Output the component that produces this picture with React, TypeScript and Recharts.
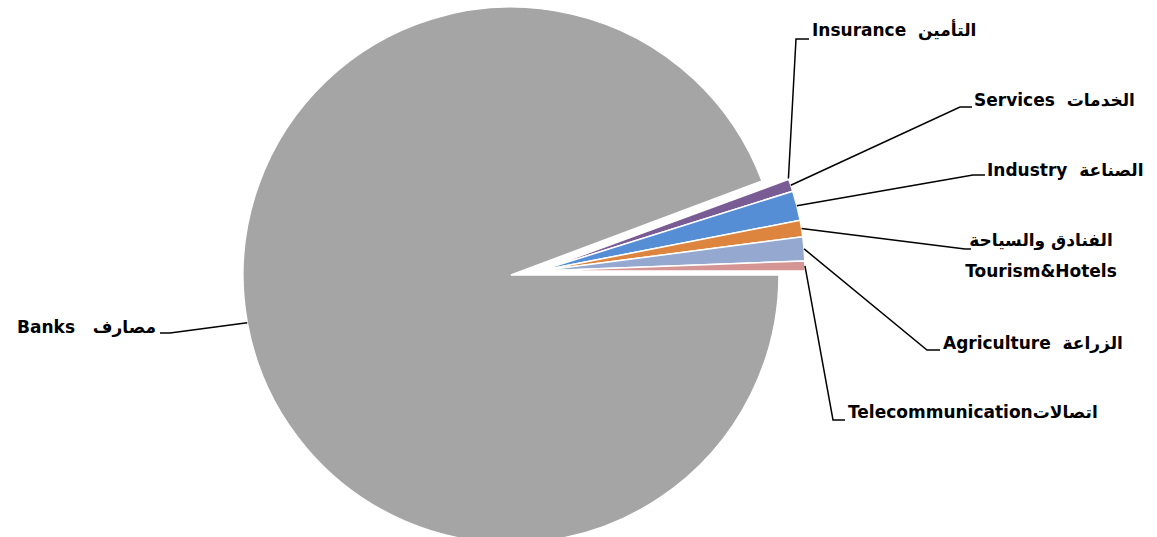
import { PieChart, Pie, Cell } from "recharts";

const sectors = ["Banks", "Insurance", "Services", "Industry", "Tourism", "Agriculture", "Telecom"];
const shares = [94.3, 0.1, 0.75, 1.8, 1.0, 1.45, 0.6];
const labelLines = [
  ["Banks   مصارف"],
  ["Insurance  التأمين"],
  ["Services  الخدمات"],
  ["Industry  الصناعة"],
  ["الفنادق والسياحة", "Tourism&Hotels"],
  ["Agriculture  الزراعة"],
  ["Telecommunicationاتصالات"],
];

const colors: Record<string, string> = {
  Banks: "#a5a5a5",
  Insurance: "#8cc152",
  Services: "#7a5c94",
  Industry: "#558ed5",
  Tourism: "#dd843e",
  Agriculture: "#95a9d0",
  Telecom: "#d59595",
};

// where each callout goes (leader elbow, short tail, text anchor)
const callouts: Record<string, { elbow: [number, number]; end: [number, number]; tx: number; ty: number; anchor: "start" | "middle" | "end" }> = {
  Banks: { elbow: [170, 333], end: [160, 333], tx: 156, ty: 327, anchor: "end" },
  Insurance: { elbow: [796, 39], end: [809, 39], tx: 812, ty: 30, anchor: "start" },
  Services: { elbow: [960, 107], end: [972, 107], tx: 974, ty: 100, anchor: "start" },
  Industry: { elbow: [973, 175], end: [985, 175], tx: 987, ty: 170, anchor: "start" },
  Tourism: { elbow: [965, 249], end: [971, 249], tx: 1041, ty: 240, anchor: "middle" },
  Agriculture: { elbow: [927, 350], end: [940, 350], tx: 943, ty: 343, anchor: "start" },
  Telecom: { elbow: [833, 420], end: [845, 420], tx: 848, ty: 412, anchor: "start" },
};

const data = sectors.map((name, i) => ({ name, value: shares[i] }));

const RAD = Math.PI / 180;

const makeLabel = (show: (name: string) => boolean) => (props: any) => {
  const { cx, cy, midAngle, outerRadius, index } = props;
  const name = sectors[index];
  if (!show(name)) return null;
  const c = callouts[name];
  const sx = cx + Math.cos(-RAD * midAngle) * outerRadius;
  const sy = cy + Math.sin(-RAD * midAngle) * outerRadius;
  const lines = labelLines[index];
  return (
    <g>
      <polyline
        points={`${sx},${sy} ${c.elbow[0]},${c.elbow[1]} ${c.end[0]},${c.end[1]}`}
        fill="none"
        stroke="#000"
        strokeWidth={1.5}
      />
      {lines.map((t, k) => (
        <text
          key={k}
          x={c.tx}
          y={c.ty + k * 31}
          textAnchor={c.anchor}
          dominantBaseline="central"
          fontFamily="DejaVu Sans"
          fontWeight="bold"
          fontSize={17}
          fill="#000"
          style={{ whiteSpace: "pre" }}
        >
          {t}
        </text>
      ))}
    </g>
  );
};

const isBanks = (n: string) => n === "Banks";

const App = () => {
  return (
    <div style={{ position: "absolute", left: 0, top: 0, width: 1157, height: 537 }}>
      <PieChart width={1157} height={537} margin={{ top: 0, right: 0, bottom: 0, left: 0 }}>
        <Pie
          data={data}
          dataKey="value"
          nameKey="name"
          cx={511}
          cy={275}
          outerRadius={268}
          startAngle={0}
          endAngle={-360}
          stroke="#fff"
          strokeWidth={1.5}
          labelLine={false}
          label={makeLabel(isBanks)}
          isAnimationActive={false}
        >
          {data.map((d, i) => (
            <Cell key={`b-${i}`} fill={isBanks(d.name) ? colors[d.name] : "none"} stroke={isBanks(d.name) ? "#fff" : "none"} />
          ))}
        </Pie>
        <Pie
          data={data}
          dataKey="value"
          nameKey="name"
          cx={539}
          cy={271}
          outerRadius={266}
          startAngle={0}
          endAngle={-360}
          stroke="#fff"
          strokeWidth={1.5}
          labelLine={false}
          label={makeLabel((n) => !isBanks(n))}
          isAnimationActive={false}
        >
          {data.map((d, i) => (
            <Cell key={`s-${i}`} fill={isBanks(d.name) ? "none" : colors[d.name]} stroke={isBanks(d.name) ? "none" : "#fff"} />
          ))}
        </Pie>
      </PieChart>
    </div>
  );
};

export default App;
